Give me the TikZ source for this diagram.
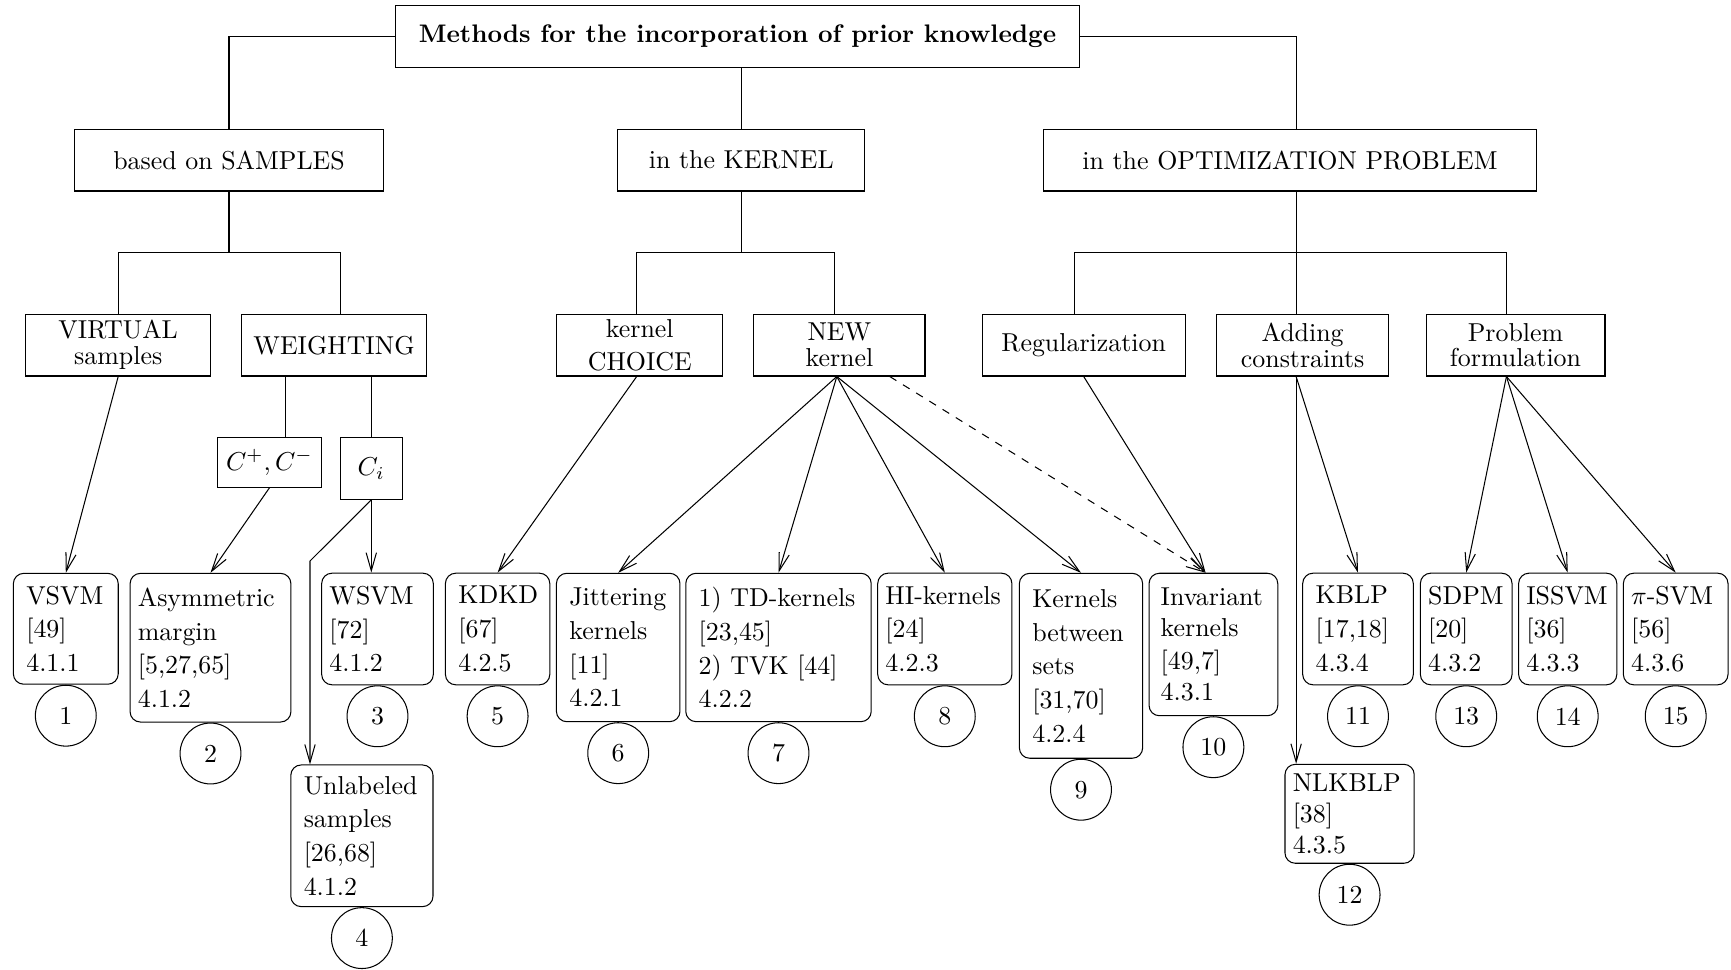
\documentclass[tikz,border=0pt]{standalone}
\usepackage{tikz}
\usetikzlibrary{calc, arrows.meta, positioning}

\begin{document}
\begin{tikzpicture}[x=1.357cm, y=1.357cm, >={Straight Barb[length=7pt,width=4pt]}, thin]
	\tikzset{box/.style={draw, rectangle, inner sep=0pt, minimum height=23.8pt, align=center, font=\fontsize{10}{10}\selectfont},
		leaf/.style={draw, rectangle, rounded corners=4pt, inner xsep=3pt, inner ysep=2pt, align=left, font=\fontsize{10}{13}\selectfont},
		num/.style={draw, circle, minimum size=23.5pt, inner sep=0pt}}
	\useasboundingbox (0,0) rectangle (17.31,9.70);
	\node[box, minimum width=264.4pt, font=\bfseries\fontsize{9.8}{10}\selectfont] (root) at (7.375,9.337) {Methods for the incorporation of prior knowledge};
	\node[box, minimum width=119.3pt] (samples) at (2.29,8.098) {based on SAMPLES};
	\node[box, minimum width=95.5pt] (kernel) at (7.413,8.098) {in the KERNEL};
	\node[box, minimum width=190.2pt] (optim) at (12.90,8.098) {in the OPTIMIZATION PROBLEM};
	\node[box, minimum width=71.4pt] (virtual) at (1.182,6.248) {VIRTUAL\\samples};
	\node[box, minimum width=71.6pt] (weight) at (3.34,6.248) {WEIGHTING};
	\node[box, minimum width=64pt] (choice) at (6.398,6.248) {kernel\\[3pt]CHOICE};
	\node[box, minimum width=66.1pt] (newk) at (8.394,6.248) {NEW\\kernel};
	\node[box, minimum width=78.5pt] (reg) at (10.837,6.248) {Regularization};
	\node[box, minimum width=66.6pt] (adding) at (13.026,6.248) {Adding\\constraints};
	\node[box, minimum width=69.1pt] (probl) at (15.155,6.248) {Problem\\formulation};
	\node[box, minimum width=40.5pt, minimum height=19.1pt] (cpm) at (2.695,5.075) {$C^+,C^-$};
	\node[box, minimum width=23.9pt] (ci) at (3.713,5.015) {$C_i$};
	\node[leaf, inner xsep=5pt, text width=30.5pt, minimum height=42.8pt] (vsvm) at (0.658,3.412) {VSVM\\{}[49]\\ 4.1.1};
	\node[leaf, text width=56.1pt, minimum height=57.4pt] (asym) at (2.105,3.223) {Asymmetric\\ margin\\{}[5,27,65]\\ 4.1.2};
	\node[leaf, text width=37.1pt, minimum height=43.1pt] (wsvm) at (3.775,3.41) {WSVM\\{}[72]\\ 4.1.2};
	\node[leaf, inner xsep=5pt, text width=44.9pt, minimum height=54.7pt] (unlab) at (3.619,1.342) {Unlabeled\\ samples\\{}[26,68]\\ 4.1.2};
	\node[leaf, inner xsep=5pt, text width=30.3pt, minimum height=43.1pt] (kdkd) at (4.976,3.41) {KDKD\\{}[67]\\ 4.2.5};
	\node[leaf, inner xsep=5pt, text width=37.7pt, minimum height=57.3pt] (jitter) at (6.182,3.225) {Jittering\\ kernels\\{}[11]\\ 4.2.1};
	\node[leaf, inner xsep=5pt, text width=61.6pt, minimum height=57.3pt] (tdk) at (7.785,3.225) {\mbox{1) TD-kernels}\\{}[23,45]\\ 2) TVK [44]\\ 4.2.2};
	\node[leaf, text width=45.8pt, minimum height=43.1pt] (hik) at (9.448,3.41) {\mbox{HI-kernels}\\{}[24]\\ 4.2.3};
	\node[leaf, inner xsep=5pt, text width=37.6pt, minimum height=71.4pt] (sets) at (10.81,3.042) {Kernels\\ between\\ sets\\{}[31,70]\\ 4.2.4};
	\node[leaf, inner xsep=4.5pt, text width=40.7pt, minimum height=55pt] (inv) at (12.134,3.255) {Invariant\\[-1pt] kernels\\{}[49,7]\\[-1pt] 4.3.1};
	\node[leaf, inner xsep=5pt, text width=32.7pt, minimum height=43.1pt] (kblp) at (13.58,3.41) {KBLP\\{}[17,18]\\ 4.3.4};
	\node[leaf, text width=43.9pt, minimum height=38.2pt] (nlkblp) at (13.496,1.562) {NLKBLP\\[-1pt]{}[38]\\[-1pt] 4.3.5};
	\node[leaf, text width=29.4pt, minimum height=43.1pt] (sdpm) at (14.662,3.41) {SDPM\\{}[20]\\ 4.3.2};
	\node[leaf, text width=31.9pt, minimum height=43.1pt] (issvm) at (15.677,3.41) {ISSVM\\{}[36]\\ 4.3.3};
	\node[leaf, text width=34.4pt, minimum height=43.1pt] (pisvm) at (16.757,3.41) {\mbox{$\pi$-SVM}\\{}[56]\\ 4.3.6};
	\node[num, below=0pt of vsvm] (c1) {1};
	\node[num, below=0pt of asym] (c2) {2};
	\node[num, below=0pt of wsvm] (c3) {3};
	\node[num, below=0pt of unlab] (c4) {4};
	\node[num, below=0pt of kdkd] (c5) {5};
	\node[num, below=0pt of jitter] (c6) {6};
	\node[num, below=0pt of tdk] (c7) {7};
	\node[num, below=0pt of hik] (c8) {8};
	\node[num, below=0pt of sets] (c9) {9};
	\node[num, below=0pt of inv] (c10) {10};
	\node[num, below=0pt of kblp] (c11) {11};
	\node[num, below=0pt of nlkblp] (c12) {12};
	\node[num, below=0pt of sdpm] (c13) {13};
	\node[num, below=0pt of issvm] (c14) {14};
	\node[num, below=0pt of pisvm] (c15) {15};
	\coordinate (sbar) at ($(samples.south)!0.5!(virtual.north)$);
	\coordinate (kbar) at ($(kernel.south)!0.5!(choice.north)$);
	\coordinate (obar) at ($(optim.south)!0.5!(reg.north)$);
	\coordinate (bend) at (3.10,4.09);
	\draw (root.west) -| (samples.north);
	\draw (root.south -| kernel.north) -- (kernel.north);
	\draw (root.east) -| ([xshift=2.5pt]optim.north);
	\draw (samples.south) -- (samples.south |- sbar);
	\draw (virtual.north) |- (sbar) -| ([xshift=2.5pt]weight.north);
	\draw (kernel.south) -- (kernel.south |- kbar);
	\draw ([xshift=-1.2pt]choice.north) |- (kbar) -| ([xshift=-2pt]newk.north);
	\draw ([xshift=2.5pt]optim.south) -- ([xshift=2.5pt]optim.south |- adding.north);
	\draw ([xshift=-3.5pt]reg.north) |- (obar) -| ([xshift=-3.5pt]probl.north);
	\draw ([xshift=6pt]cpm.north) -- ([xshift=6pt]cpm.north |- weight.south);
	\draw (ci.north) -- (ci.north |- weight.south);
	\draw[->] (virtual.south) -- (vsvm.north);
	\draw[->] (cpm.south) -- (asym.north);
	\draw[->] (ci.south) -- (ci.south |- wsvm.north);
	\draw[->] (ci.south) -- (bend) -- (bend |- unlab.north);
	\draw[->] ([xshift=-1.2pt]choice.south) -- (kdkd.north);
	\path[->]
		([xshift=-1pt]newk.south)
			edge (jitter.north)
			edge (tdk.north)
			edge (hik.north)
			edge (sets.north);
	\draw[->, dashed] (newk) -- ([xshift=-3pt]inv.north);
	\draw[->] (reg.south) -- ([xshift=-3pt]inv.north);
	\path[->]
		([xshift=-2.5pt]adding.south)
			edge (kblp.north)
			edge ([xshift=-2.5pt]adding.south |- nlkblp.north);
	\path[->]
		([xshift=-3.5pt]probl.south)
			edge (sdpm.north)
			edge (issvm.north)
			edge (pisvm.north);
\end{tikzpicture}
\end{document}
